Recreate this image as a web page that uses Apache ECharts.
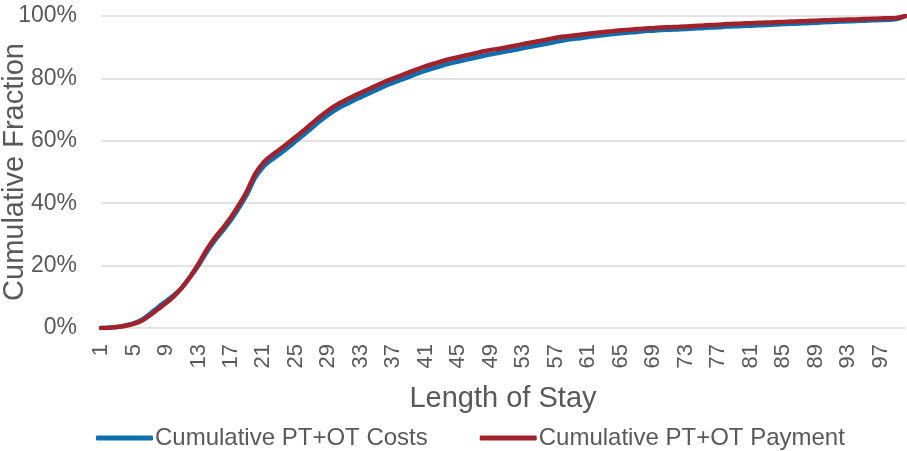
<!DOCTYPE html>
<html>
<head>
<meta charset="utf-8">
<script src="https://cdn.jsdelivr.net/npm/echarts@6/dist/echarts.min.js"></script>
<style>
  html, body { margin: 0; padding: 0; background: #fff; }
  #chart { width: 907px; height: 451px; }
</style>
</head>
<body>
<div id="chart"></div>
<script>
// Length of stay, in days
const lengthOfStay = Array.from({ length: 100 }, (_, i) => String(i + 1));

// Cumulative share of PT+OT costs by length of stay (%)
const cumulativeCosts = [
  0, 0.1, 0.3, 0.8, 1.5, 2.6, 4.5, 6.6, 8.6, 10.6,
  13.1, 16.4, 20.0, 24.3, 28.0, 31.2, 34.6, 38.6, 43.0, 48.3,
  51.7, 53.9, 55.8, 57.8, 59.9, 62.0, 64.2, 66.4, 68.4, 70.1,
  71.5, 72.8, 74.0, 75.2, 76.4, 77.6, 78.6, 79.6, 80.6, 81.6,
  82.5, 83.3, 84.1, 84.8, 85.4, 86.0, 86.6, 87.2, 87.7, 88.2,
  88.7, 89.2, 89.7, 90.2, 90.7, 91.2, 91.7, 92.2, 92.6, 92.9,
  93.3, 93.6, 93.9, 94.2, 94.5, 94.7, 94.9, 95.2, 95.3, 95.5,
  95.6, 95.7, 95.8, 96.0, 96.1, 96.3, 96.4, 96.6, 96.7, 96.8,
  96.9, 97.0, 97.1, 97.3, 97.4, 97.5, 97.6, 97.7, 97.8, 98.0,
  98.1, 98.2, 98.3, 98.4, 98.5, 98.6, 98.7, 98.8, 99.0, 100
];

// Cumulative share of PT+OT payment by length of stay (%)
const cumulativePayment = [
  0, 0.1, 0.3, 0.7, 1.3, 2.3, 4.0, 6.0, 8.0, 10.2,
  13.0, 16.5, 20.5, 25.0, 28.8, 32.0, 35.5, 39.5, 44.0, 49.5,
  53.0, 55.3, 57.2, 59.2, 61.3, 63.4, 65.6, 67.8, 69.8, 71.5,
  72.9, 74.2, 75.4, 76.6, 77.8, 79.0, 80.0, 81.0, 82.0, 83.0,
  83.9, 84.7, 85.5, 86.2, 86.8, 87.4, 88.0, 88.6, 89.1, 89.5,
  90.0, 90.5, 91.0, 91.5, 92.0, 92.5, 93.0, 93.4, 93.7, 94.0,
  94.3, 94.6, 94.9, 95.1, 95.4, 95.6, 95.8, 96.0, 96.1, 96.3,
  96.4, 96.5, 96.6, 96.8, 96.9, 97.1, 97.2, 97.4, 97.5, 97.6,
  97.7, 97.8, 97.9, 98.0, 98.1, 98.2, 98.3, 98.4, 98.5, 98.6,
  98.7, 98.8, 98.85, 98.9, 99.0, 99.1, 99.2, 99.3, 99.4, 100
];

const seriesNames = ['Cumulative PT+OT Costs', 'Cumulative PT+OT Payment'];
const seriesColors = ['#0F6FAE', '#A2222C'];

const TEXT = '#595959';
const FONT = 'Liberation Sans, Arial, sans-serif';

const chart = echarts.init(document.getElementById('chart'), null, { renderer: 'canvas' });

chart.setOption({
  animation: false,
  backgroundColor: '#ffffff',
  textStyle: { fontFamily: FONT, color: TEXT },
  grid: {
    left: 101, right: 2, top: 16, bottom: 123,
    containLabel: false,
    outerBoundsMode: 'none'
  },
  legend: {
    left: 91,
    top: 421,
    itemWidth: 57,
    itemHeight: 5,
    itemGap: 52,
    icon: 'roundRect',
    textStyle: { fontFamily: FONT, color: TEXT, fontSize: 24, padding: [0, 0, 0, -3] },
    data: seriesNames
  },
  xAxis: {
    type: 'category',
    data: lengthOfStay,
    boundaryGap: false,
    name: 'Length of Stay',
    nameLocation: 'middle',
    nameGap: 56,
    nameMoveOverlap: false,
    nameTextStyle: { fontFamily: FONT, color: TEXT, fontSize: 29 },
    axisLine: { show: false },
    axisTick: { show: false },
    axisLabel: {
      interval: 3,
      rotate: 90,
      margin: 16,
      fontSize: 22,
      color: TEXT,
      fontFamily: FONT
    },
    splitLine: { show: false }
  },
  yAxis: {
    type: 'value',
    min: 0,
    max: 100,
    interval: 20,
    name: 'Cumulative Fraction',
    nameLocation: 'middle',
    nameGap: 72,
    nameMoveOverlap: false,
    nameTextStyle: { fontFamily: FONT, color: TEXT, fontSize: 29 },
    axisLine: { show: false },
    axisTick: { show: false },
    axisLabel: {
      formatter: '{value}%',
      fontSize: 23,
      margin: 24,
      color: TEXT,
      fontFamily: FONT
    },
    splitLine: { lineStyle: { color: '#D9D9D9', width: 1.5 } }
  },
  series: [
    {
      name: seriesNames[0],
      type: 'line',
      data: cumulativeCosts,
      smooth: 0.3,
      showSymbol: false,
      color: seriesColors[0],
      lineStyle: { width: 4.5, color: seriesColors[0], cap: 'round', join: 'round' },
      z: 2
    },
    {
      name: seriesNames[1],
      type: 'line',
      data: cumulativePayment,
      smooth: 0.3,
      showSymbol: false,
      color: seriesColors[1],
      lineStyle: { width: 4.5, color: seriesColors[1], cap: 'round', join: 'round' },
      z: 3
    }
  ]
});
</script>
</body>
</html>
